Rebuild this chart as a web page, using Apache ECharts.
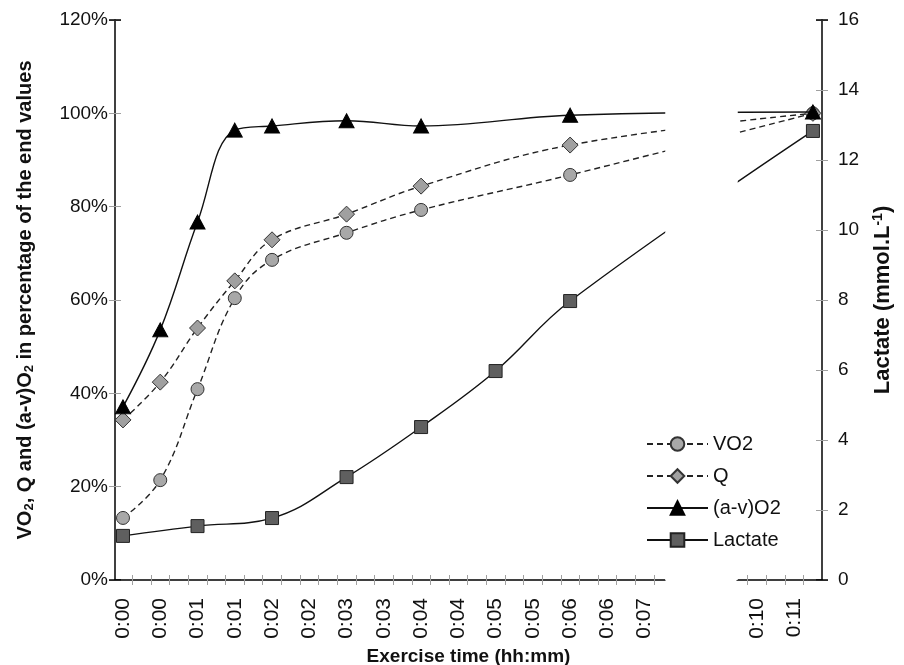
<!DOCTYPE html>
<html><head><meta charset="utf-8">
<script src="https://cdn.jsdelivr.net/npm/echarts@6/dist/echarts.min.js"></script>
<style>html,body{margin:0;padding:0;background:#fff}#c{width:904px;height:665px}</style>
</head><body><div id="c"></div>
<script>
// ---- data (time in seconds) ----
const timesSec = [0, 30, 60, 90, 120, 180, 240, 360, 675];
const vo2 = [13.3, 21.4, 40.9, 60.4, 68.6, 74.4, 79.3, 86.8, 100.0];
const q = [34.3, 42.4, 54.0, 64.1, 72.9, 78.4, 84.4, 93.2, 100.0];
const avo2 = [37.1, 53.6, 76.7, 96.4, 97.3, 98.4, 97.3, 99.6, 100.3];
const lactateTimesSec = [0, 60, 120, 180, 240, 300, 360, 675];
const lactate = [1.26, 1.54, 1.77, 2.94, 4.37, 5.97, 7.97, 12.83];
// ---- axis ticks / labels ----
const xLabelSec = [0, 30, 60, 90, 120, 150, 180, 210, 240, 270, 300, 330, 360, 390, 420, 630, 660];
const xTickSec = [7.5, 22.5, 37.5, 52.5, 67.5, 82.5, 97.5, 112.5, 127.5, 142.5, 157.5, 172.5, 187.5, 202.5, 217.5, 232.5, 247.5, 262.5, 277.5, 292.5, 307.5, 322.5, 337.5, 352.5, 367.5, 382.5, 397.5, 412.5, 427.5, 622.5, 637.5, 652.5, 667.5];
const leftTicks = [0, 20, 40, 60, 80, 100, 120];
const rightTicks = [0, 2, 4, 6, 8, 10, 12, 14, 16];
const leftEndTicks = [0, 120];
const rightEndTicks = [0, 16];

const FONT = '"Liberation Sans", Arial, sans-serif';
const pair = (xs, ys) => xs.map((x, i) => [x, ys[i]]);
const fmtTime = v => '0:' + String(Math.floor(v / 60)).padStart(2, '0');

const xBreak = [{ start: 436.4, end: 613.9, gap: 58 }];
const breakArea = {
  show: true,
  itemStyle: { color: '#fff', borderColor: '#fff', borderWidth: 0, opacity: 1 },
  zigzagAmplitude: 0,
  zigzagZ: 100
};
const tickGray = { color: '#a0a0a0', width: 1 };
const tickBlack = { color: '#000', width: 1.5 };

function xAxisDef(main) {
  return {
    type: 'value', position: 'bottom',
    min: -6.44, max: 682.3,
    breaks: xBreak, breakArea: breakArea,
    splitLine: { show: false },
    axisLine: { show: main, onZero: false, lineStyle: { color: '#000', width: 1.5 } },
    axisTick: { show: true, inside: !main, length: 5, customValues: xTickSec, lineStyle: tickGray },
    axisLabel: {
      show: main, customValues: xLabelSec, rotate: 90, margin: 18,
      fontFamily: FONT, fontSize: 21, color: '#111', formatter: fmtTime
    },
    name: main ? 'Exercise time (hh:mm)' : '', nameLocation: 'middle', nameGap: 63,
    nameTextStyle: { fontFamily: FONT, fontSize: 19, fontWeight: 'bold', color: '#111' }
  };
}

function yLeft(main, inside, ticks, tickStyle) {
  return {
    type: 'value', position: 'left', min: 0, max: 120, interval: 20,
    splitLine: { show: false },
    axisLine: { show: main, onZero: false, lineStyle: { color: '#000', width: 1.5 } },
    axisTick: { show: true, inside: inside, length: 6, customValues: ticks, lineStyle: tickStyle },
    axisLabel: { show: main, customValues: leftTicks, margin: 7, fontFamily: FONT, fontSize: 19, color: '#111', formatter: '{value}%' },
    name: main ? '{b|VO}{s|2}{b|, Q and (a-v)O}{s|2}{b| in percentage of the end values}' : '',
    nameLocation: 'middle', nameGap: 79, nameRotate: 90,
    nameTextStyle: {
      fontFamily: FONT, fontWeight: 'bold', fontSize: 20, color: '#111',
      rich: {
        b: { fontFamily: FONT, fontWeight: 'bold', fontSize: 20, color: '#111', lineHeight: 22 },
        s: { fontFamily: FONT, fontWeight: 'bold', fontSize: 13, color: '#111', verticalAlign: 'bottom', lineHeight: 16 }
      }
    }
  };
}

function yRight(main, inside, ticks, tickStyle) {
  return {
    type: 'value', position: 'right', min: 0, max: 16, interval: 2,
    splitLine: { show: false },
    axisLine: { show: main, onZero: false, lineStyle: { color: '#000', width: 1.5 } },
    axisTick: { show: true, inside: inside, length: 6, customValues: ticks, lineStyle: tickStyle },
    axisLabel: { show: main, customValues: rightTicks, margin: 16, fontFamily: FONT, fontSize: 19, color: '#111' },
    name: main ? '{b|Lactate (mmol.L}{p|-1}{b|)}' : '',
    nameLocation: 'middle', nameGap: 49, nameRotate: 90,
    nameTextStyle: {
      fontFamily: FONT, fontWeight: 'bold', fontSize: 22, color: '#111',
      rich: {
        b: { fontFamily: FONT, fontWeight: 'bold', fontSize: 22, color: '#111', lineHeight: 24 },
        p: { fontFamily: FONT, fontWeight: 'bold', fontSize: 14, color: '#111', verticalAlign: 'top', lineHeight: 17 }
      }
    }
  };
}

const chart = echarts.init(document.getElementById('c'), null, { renderer: 'canvas' });
chart.setOption({
  animation: false,
  backgroundColor: '#fff',
  grid: { left: 115, right: 82, top: 20, bottom: 85, containLabel: false, outerBoundsMode: 'none' },
  legend: {
    orient: 'vertical', left: 641, top: 429, z: 200,
    itemWidth: 61, itemHeight: 17, itemGap: 12,
    textStyle: { fontFamily: FONT, fontSize: 20, color: '#111' },
    data: ['VO2', 'Q', '(a-v)O2', 'Lactate']
  },
  xAxis: [xAxisDef(true), xAxisDef(false)],
  yAxis: [
    yLeft(true, false, leftTicks, tickGray),
    yRight(true, false, rightTicks, tickGray),
    yLeft(false, true, leftTicks, tickGray),
    yRight(false, true, rightTicks, tickGray),
    yLeft(false, false, leftEndTicks, tickBlack),
    yLeft(false, true, leftEndTicks, tickBlack),
    yRight(false, false, rightEndTicks, tickBlack),
    yRight(false, true, rightEndTicks, tickBlack)
  ],
  series: [
    {
      name: 'Lactate', type: 'line', yAxisIndex: 1, smooth: 0.4, z: 2,
      data: pair(lactateTimesSec, lactate),
      symbol: 'rect', symbolSize: 13,
      lineStyle: { color: '#111', width: 1.4 },
      itemStyle: { color: '#5f5f5f', borderColor: '#222', borderWidth: 1 }
    },
    {
      name: 'VO2', type: 'line', yAxisIndex: 0, smooth: 0.4, z: 3,
      data: pair(timesSec, vo2),
      symbol: 'circle', symbolSize: 13,
      lineStyle: { color: '#222', width: 1.4, type: [6, 4] },
      itemStyle: { color: '#a8a8a8', borderColor: '#333', borderWidth: 1 }
    },
    {
      name: 'Q', type: 'line', yAxisIndex: 0, smooth: 0.4, z: 4,
      data: pair(timesSec, q),
      symbol: 'diamond', symbolSize: 16,
      lineStyle: { color: '#222', width: 1.4, type: [6, 4] },
      itemStyle: { color: '#a0a0a0', borderColor: '#333', borderWidth: 1 }
    },
    {
      name: '(a-v)O2', type: 'line', yAxisIndex: 0, smooth: 0.4, z: 5,
      data: pair(timesSec, avo2),
      symbol: 'triangle', symbolSize: [15, 14],
      lineStyle: { color: '#111', width: 1.4 },
      itemStyle: { color: '#000', borderColor: '#000', borderWidth: 1 }
    }
  ]
});
</script></body></html>
